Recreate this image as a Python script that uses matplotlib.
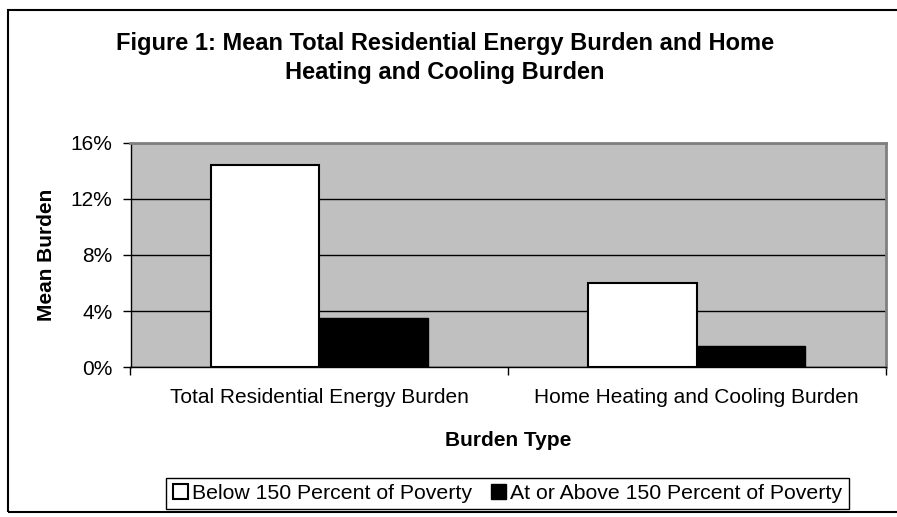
import matplotlib
matplotlib.use("Agg")
import matplotlib.pyplot as plt
import matplotlib.patches as mpatches
from matplotlib.ticker import FuncFormatter, FixedLocator

plt.rcParams['font.family'] = ['Liberation Sans', 'DejaVu Sans']

# data
categories = ['Total Residential Energy Burden', 'Home Heating and Cooling Burden']
series_names = ['Below 150 Percent of Poverty', 'At or Above 150 Percent of Poverty']
below_150 = [14.4, 6.0]
above_150 = [3.5, 1.5]
y_ticks = [0, 4, 8, 12, 16]

W, H = 897, 517
FS = 15
fig = plt.figure(figsize=(W / 100, H / 100), dpi=100)

# chart area border
fig.patches.append(mpatches.Rectangle((8 / W, 1 - 512 / H), 1.2, (512 - 10) / H,
                                      transform=fig.transFigure, fill=False,
                                      edgecolor='black', linewidth=1.5))

left, right, top, bottom = 130.5, 885.5, 142.7, 367.3
ax = fig.add_axes([left / W, 1 - bottom / H, (right - left) / W, (bottom - top) / H])
ax.set_facecolor('#c0c0c0')

x = range(len(categories))
width = 0.2875
ax.bar([i - width / 2 for i in x], below_150, width, color='white',
       edgecolor='black', linewidth=1.5, label=series_names[0], zorder=3)
ax.bar([i + width / 2 for i in x], above_150, width, color='black',
       edgecolor='black', linewidth=1.0, label=series_names[1], zorder=3)

ax.set_xlim(-0.5, len(categories) - 0.5)
ax.set_ylim(0, 16)
ax.set_yticks(y_ticks)
ax.yaxis.set_major_formatter(FuncFormatter(lambda v, p: f'{v:.0f}%'))
ax.yaxis.grid(True, color='black', linewidth=1.0, zorder=1)
ax.set_axisbelow(True)

# categories labelled between the boundary ticks
ax.xaxis.set_major_locator(FixedLocator([-0.5, 0.5, 1.5]))
ax.xaxis.set_major_formatter(FuncFormatter(lambda v, p: ''))
ax.xaxis.set_minor_locator(FixedLocator(list(x)))
ax.set_xticklabels(categories, minor=True)
ax.tick_params(axis='x', which='minor', length=0, pad=15, labelsize=FS)
ax.tick_params(axis='x', which='major', length=6, direction='out', width=1)
ax.tick_params(axis='y', length=6, direction='out', width=1, labelsize=FS, pad=7)

for s in ['top', 'right']:
    ax.spines[s].set_color('#808080')
    ax.spines[s].set_linewidth(2)
for s in ['left', 'bottom']:
    ax.spines[s].set_color('black')
    ax.spines[s].set_linewidth(1)

fig.text(47 / W, 1 - 255 / H, 'Mean Burden', rotation=90, ha='center', va='center',
         fontsize=FS, fontweight='bold')
fig.text(508 / W, 1 - 441 / H, 'Burden Type', ha='center', va='center',
         fontsize=FS, fontweight='bold')
fig.text(445 / W, 1 - 58 / H,
         'Figure 1: Mean Total Residential Energy Burden and Home\nHeating and Cooling Burden',
         ha='center', va='center', fontsize=17, fontweight='bold', linespacing=1.35)

leg = fig.legend(loc='center', bbox_to_anchor=(507.5 / W, 1 - 493.5 / H), ncol=2,
                 fontsize=15.3, frameon=True, fancybox=False, edgecolor='black',
                 framealpha=1, handlelength=0.7, handleheight=0.7,
                 handletextpad=0.2, columnspacing=0.9, borderpad=0.3,
                 borderaxespad=0)
leg.get_frame().set_linewidth(1.0)

fig.savefig('out.png', dpi=100)
